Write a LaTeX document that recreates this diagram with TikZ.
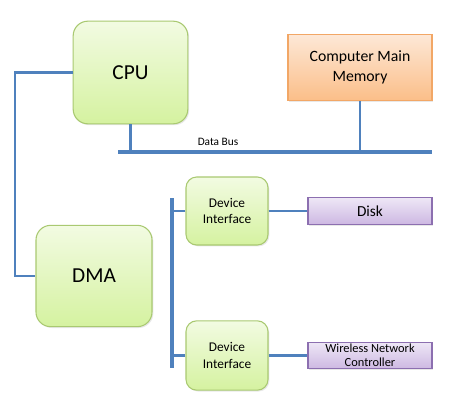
\documentclass[tikz,border=0pt]{standalone}
\usepackage{fontspec}
\setmainfont{Carlito}
\usepackage{tikz}
\usetikzlibrary{calc,shadows}
\definecolor{busblue}{HTML}{4F81BD}
\definecolor{greentop}{HTML}{F2FBE2}
\definecolor{greenbot}{HTML}{D5F2A0}
\definecolor{greenline}{HTML}{A9C971}
\definecolor{orangetop}{HTML}{FDE8D7}
\definecolor{orangebot}{HTML}{FBBE88}
\definecolor{orangeline}{HTML}{F2A766}
\definecolor{purpletop}{HTML}{EEE7F6}
\definecolor{purplebot}{HTML}{CDB8E2}
\definecolor{purpleline}{HTML}{8C6FB0}

\begin{document}
\begin{tikzpicture}[x=0.75pt,y=-0.75pt,
  unit/.style={draw=greenline, line width=0.8pt, top color=greentop, bottom color=greenbot,
    rounded corners=11pt, inner sep=0pt, align=center,
    drop shadow={opacity=0.18, shadow xshift=1pt, shadow yshift=-1pt}},
  memblock/.style={draw=orangeline, line width=0.8pt, top color=orangetop, bottom color=orangebot,
    inner sep=0pt, align=center, minimum width=108pt, minimum height=50pt,
    drop shadow={opacity=0.18, shadow xshift=1pt, shadow yshift=-1pt}},
  devblock/.style={draw=purpleline, line width=0.8pt, top color=purpletop, bottom color=purplebot,
    inner sep=0pt, align=center, minimum width=93pt, minimum height=20pt,
    drop shadow={opacity=0.18, shadow xshift=1pt, shadow yshift=-1pt}},
  bus/.style={busblue, line width=2.3pt},
  link/.style={busblue, line width=1.6pt}]
\fill[white] (0,0) rectangle (450,404);
% blocchi principali
\node[unit, minimum width=86pt, minimum height=77pt, font=\fontsize{16}{18}\selectfont] (cpu) at (130.5,72.5) {CPU};
\node[memblock, font=\fontsize{11.8}{15}\selectfont] (mem) at (360,67.5) {Computer Main\\Memory};
\node[unit, minimum width=87pt, minimum height=76pt, font=\fontsize{16}{18}\selectfont] (dma) at (94,276) {DMA};
% interfacce
\node[unit, rounded corners=8pt, minimum width=61.5pt, minimum height=51pt, font=\fontsize{10}{12.5}\selectfont] (dev1) at (227,211) {Device\\Interface};
\node[unit, rounded corners=8pt, minimum width=61.5pt, minimum height=52pt, font=\fontsize{10}{12.5}\selectfont] (dev2) at (227,355.5) {Device\\Interface};
\node[devblock, font=\fontsize{11.5}{13}\selectfont] (disk) at (370,211) {Disk};
\node[devblock, font=\fontsize{9.3}{10.5}\selectfont] (wnc) at (370,355.5) {Wireless Network\\Controller};
% bus dati
\coordinate (busL) at (118,152);
\coordinate (busR) at (432,152);
\draw[bus] (busL) -- (busR);
\node[font=\fontsize{8.5}{9}\selectfont, anchor=south] (buslabel) at (218,150) {Data Bus};
\draw[link] (cpu.south) -- (cpu.south |- busL);
\draw[link] (mem.south) -- (mem.south |- busL);
% bus dispositivi
\coordinate (vbT) at (172,198);
\coordinate (vbB) at (172,368);
\draw[bus] (vbT) -- (vbB);
\draw[link] ($(dma.east)+(0,-22)$) -- ($(dma.east)+(0,-22)$ -| vbT);
\draw[link] ($(dma.east)+(0,32)$) -- ($(dma.east)+(0,32)$ -| vbT);
\draw[link] (dev1.west) -- (dev1.west -| vbT);
\draw[link] (dev2.west) -- (dev2.west -| vbT);
\draw[link] (dev1.east) -- (disk.west);
\draw[link] (dev2.east) -- (wnc.west);
% cpu - dma
\draw[link] (cpu.west) -- ++(-58,0) |- (dma.west);
\end{tikzpicture}
\end{document}
